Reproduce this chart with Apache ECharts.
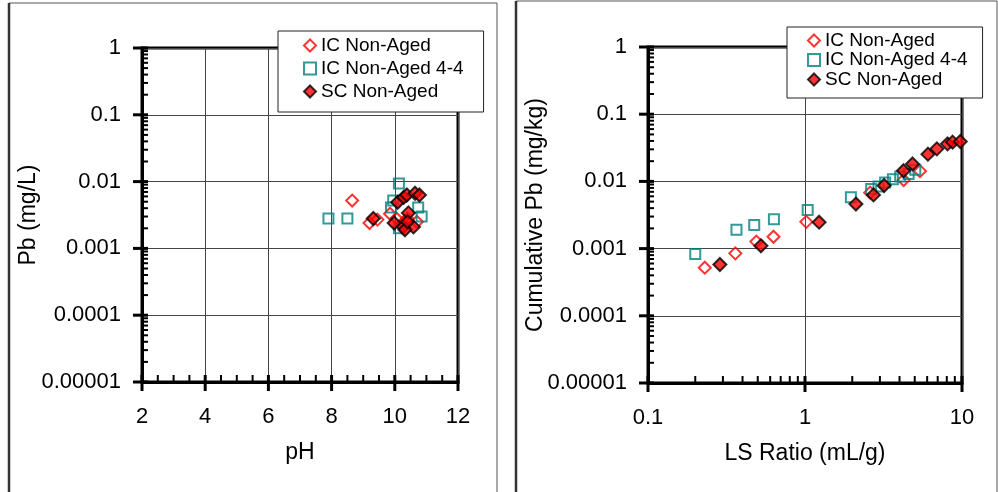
<!DOCTYPE html>
<html lang="en">
<head>
  <meta charset="UTF-8">
  <title>Pb leaching</title>
  <style>
    html, body { margin: 0; padding: 0; background: #fff; }
    #main { width: 998px; height: 492px; }
  </style>
</head>
<body>
<div id="main"></div>
<script src="https://cdn.jsdelivr.net/npm/echarts@6/dist/echarts.min.js"></script>
<script>
  // ---- data ----
  var seriesNames = ['IC Non-Aged', 'IC Non-Aged 4-4', 'SC Non-Aged'];

  // left panel: pH vs Pb (mg/L)
  var phIC = [[8.65,0.0052],[9.2,0.0024],[9.45,0.0027],[9.85,0.0033],[10.05,0.0028],[10.4,0.0028],[10.7,0.0025],[10.25,0.0024]];
  var phIC44 = [[7.9,0.0028],[8.5,0.0028],[9.88,0.0041],[9.95,0.0052],[10.13,0.0094],[10.13,0.002],[10.74,0.0041],[10.85,0.003]];
  var phSC = [[9.32,0.0028],[9.98,0.0024],[10.09,0.0049],[10.28,0.0058],[10.38,0.0063],[10.64,0.0067],[10.78,0.0063],
              [10.43,0.0034],[10.27,0.0021],[10.59,0.0021],[10.32,0.0019],[10.4,0.0025]];

  // right panel: LS ratio vs cumulative Pb (mg/kg)
  var lsIC = [[0.23,0.00052],[0.36,0.00085],[0.49,0.00127],[0.63,0.0015],[1.02,0.0025],[2.6,0.0068],[4.25,0.0105],[5.4,0.0142]];
  var lsIC44 = [[0.2,0.00083],[0.366,0.0019],[0.475,0.00225],[0.634,0.00273],[1.04,0.00376],[1.96,0.0058],[2.64,0.0077],
                [2.94,0.0084],[3.24,0.0096],[3.63,0.0108],[4.04,0.0118],[4.57,0.0129],[5.04,0.0149]];
  var lsSC = [[0.287,0.00058],[0.524,0.0011],[1.23,0.00247],[2.11,0.0046],[2.73,0.0063],[3.19,0.0087],[4.24,0.0144],
              [4.84,0.0182],[6.07,0.0254],[6.92,0.0305],[8.09,0.0362],[8.71,0.0384],[9.75,0.0392]];

  var yTickLabels = ['0.00001', '0.0001', '0.001', '0.01', '0.1', '1'];   // 1e-5 .. 1
  var lsTickLabels = ['0.1', '1', '10'];                                  // 1e-1 .. 1e1
  var phTickLabels = ['2', '4', '6', '8', '10', '12'];

  var FONT = "'Liberation Sans', Arial, sans-serif";
  var RED = '#ff0000', TEAL = '#008080';

  // tick marks (excel style: majors cross the axis, minors point inward)
  function logTicks(lo, hi, atX, isY) {
    var out = [];
    for (var d = lo; d < hi; d++) {
      for (var m = 1; m <= 9; m++) {
        var v = m * Math.pow(10, d);
        var kind = (m === 1 ? 0 : 1) + (isY ? 0 : 2);
        out.push(isY ? [atX, v, kind] : [v, atX, kind]);
      }
    }
    out.push(isY ? [atX, Math.pow(10, hi), 0] : [Math.pow(10, hi), atX, 2]);
    return out;
  }
  function linTicks(lo, hi, step, major, atY) {
    var out = [];
    for (var k = 0; lo + k * step <= hi + 1e-9; k++) {
      var v = lo + k * step;
      out.push([v, atY, (Math.abs(v / major - Math.round(v / major)) < 1e-6) ? 2 : 3]);
    }
    return out;
  }
  function tickItem(params, api) {
    var p = api.coord([api.value(0), api.value(1)]);
    var kind = api.value(2);
    var s;
    if (kind === 0) s = { x1: p[0] - 9, y1: p[1], x2: p[0] + 6, y2: p[1] };
    else if (kind === 1) s = { x1: p[0], y1: p[1], x2: p[0] + 6, y2: p[1] };
    else if (kind === 2) s = { x1: p[0], y1: p[1] - 7, x2: p[0], y2: p[1] + 9 };
    else s = { x1: p[0], y1: p[1] - 7, x2: p[0], y2: p[1] };
    return { type: 'line', shape: s, style: { stroke: '#000', lineWidth: kind % 2 ? 2 : 3 } };
  }

  function logLabel(labels, lo) {
    return function (v) {
      var i = Math.round(Math.log(v) / Math.LN10) - lo;
      return labels[i] !== undefined ? labels[i] : '';
    };
  }

  var styles = [
    { symbol: 'diamond', size: 12, item: { color: 'rgba(255,255,255,0)', borderColor: RED, borderWidth: 2 } },
    { symbol: 'rect', size: 10, item: { color: 'rgba(255,255,255,0)', borderColor: TEAL, borderWidth: 2 } },
    { symbol: 'diamond', size: 13, item: { color: RED, borderColor: '#000', borderWidth: 2 } }
  ];

  function scatter(k, data, idx) {
    return {
      name: seriesNames[k], type: 'scatter', data: data, xAxisIndex: idx, yAxisIndex: idx,
      symbol: styles[k].symbol, symbolSize: styles[k].size, itemStyle: styles[k].item
    };
  }

  var legendData = seriesNames.map(function (n, k) {
    return { name: n, icon: styles[k].symbol, itemStyle: styles[k].item };
  });

  var axisCommon = {
    axisLine: { show: true, onZero: false, lineStyle: { color: '#000', width: 3 } },
    axisTick: { show: false },
    splitLine: { show: true, lineStyle: { color: '#444', width: 1 } },
    nameLocation: 'middle',
    nameMoveOverlap: false,
    nameTextStyle: { fontFamily: FONT, fontSize: 23, color: '#000' }
  };
  var labelCommon = { fontFamily: FONT, fontSize: 22, color: '#000' };

  var option = {
    animation: false,
    backgroundColor: '#fff',
    textStyle: { fontFamily: FONT },
    graphic: [
      { type: 'rect', shape: { x: 9, y: 3, width: 488, height: 500 }, style: { fill: 'none', stroke: '#555', lineWidth: 1 } },
      { type: 'line', shape: { x1: 9, y1: 3, x2: 9, y2: 492 }, style: { stroke: '#333', lineWidth: 2.5 } },
      { type: 'rect', shape: { x: 516, y: 1, width: 481, height: 500 }, style: { fill: 'none', stroke: '#555', lineWidth: 1 } },
      { type: 'line', shape: { x1: 516, y1: 1, x2: 516, y2: 492 }, style: { stroke: '#333', lineWidth: 2.5 } }
    ],
    grid: [
      { left: 142, top: 48, width: 316, height: 334, show: true, borderColor: '#000', borderWidth: 3, backgroundColor: '#fff' },
      { left: 648, top: 47, width: 314, height: 336, show: true, borderColor: '#000', borderWidth: 3, backgroundColor: '#fff' }
    ],
    legend: [
      {
        data: legendData, orient: 'vertical', left: 278, top: 31, width: 205,
        padding: [5, 20, 11, 25], itemGap: 4, itemWidth: 12, itemHeight: 12,
        backgroundColor: '#fff', borderColor: '#222', borderWidth: 1,
        textStyle: { fontFamily: FONT, fontSize: 19, color: '#000', lineHeight: 19 },
        selectedMode: false
      },
      {
        data: legendData, orient: 'vertical', left: 787, top: 27, width: 195,
        padding: [4, 15, 9, 20], itemGap: 0.5, itemWidth: 12, itemHeight: 12,
        backgroundColor: '#fff', borderColor: '#222', borderWidth: 1,
        textStyle: { fontFamily: FONT, fontSize: 19, color: '#000', lineHeight: 19 },
        selectedMode: false
      }
    ],
    xAxis: [
      Object.assign({}, axisCommon, {
        type: 'value', gridIndex: 0, min: 2, max: 12, interval: 2,
        name: 'pH', nameGap: 59,
        axisLabel: Object.assign({ margin: 24,
          formatter: function (v) { return phTickLabels[Math.round((v - 2) / 2)]; } }, labelCommon)
      }),
      Object.assign({}, axisCommon, {
        type: 'log', logBase: 10, gridIndex: 1, min: 0.1, max: 10,
        name: 'LS Ratio (mL/g)', nameGap: 59,
        axisLabel: Object.assign({ margin: 24, formatter: logLabel(lsTickLabels, -1) }, labelCommon)
      })
    ],
    yAxis: [
      Object.assign({}, axisCommon, {
        type: 'log', logBase: 10, gridIndex: 0, min: 0.00001, max: 1,
        name: 'Pb (mg/L)', nameGap: 102,
        axisLabel: Object.assign({ margin: 21, formatter: logLabel(yTickLabels, -5) }, labelCommon)
      }),
      Object.assign({}, axisCommon, {
        type: 'log', logBase: 10, gridIndex: 1, min: 0.00001, max: 1,
        name: 'Cumulative Pb (mg/kg)', nameGap: 101,
        axisLabel: Object.assign({ margin: 21, formatter: logLabel(yTickLabels, -5) }, labelCommon)
      })
    ],
    series: [
      { type: 'custom', xAxisIndex: 0, yAxisIndex: 0, clip: false, silent: true, z: 5, renderItem: tickItem,
        data: logTicks(-5, 0, 2, true).concat(linTicks(2, 12, 0.5, 2, 0.00001)) },
      { type: 'custom', xAxisIndex: 1, yAxisIndex: 1, clip: false, silent: true, z: 5, renderItem: tickItem,
        data: logTicks(-5, 0, 0.1, true).concat(logTicks(-1, 1, 0.00001, false)) },
      scatter(0, phIC, 0),
      scatter(1, phIC44, 0),
      scatter(2, phSC, 0),
      scatter(0, lsIC, 1),
      scatter(1, lsIC44, 1),
      scatter(2, lsSC, 1)
    ]
  };

  var chart = echarts.init(document.getElementById('main'));
  chart.setOption(option);
</script>
</body>
</html>
